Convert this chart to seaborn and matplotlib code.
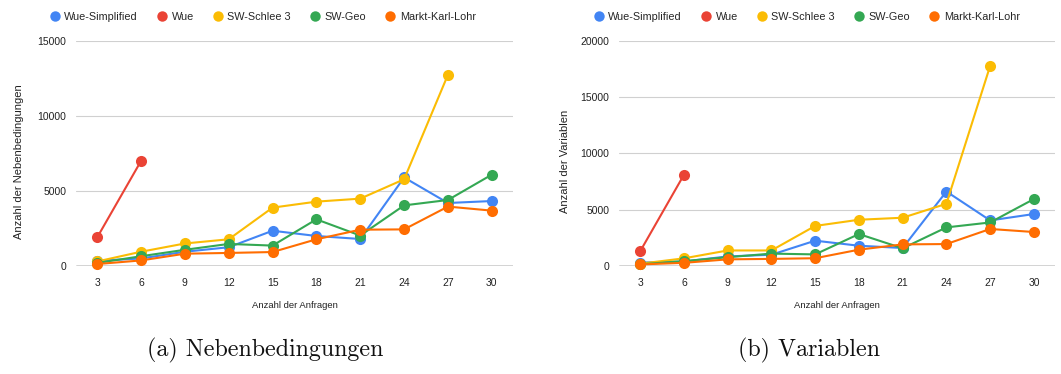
import numpy as np
import pandas as pd
import matplotlib
matplotlib.use("Agg")
import matplotlib.pyplot as plt
from matplotlib.lines import Line2D
import seaborn as sns

# Number of queries (x axis)
requests = [3, 6, 9, 12, 15, 18, 21, 24, 27, 30]
series_names = ["Wue-Simplified", "Wue", "SW-Schlee 3", "SW-Geo", "Markt-Karl-Lohr"]
nan = np.nan

# Number of constraints per instance
wue_simplified_cons = [350, 500, 950, 1250, 2350, 2000, 1800, 5900, 4200, 4330]
wue_cons = [1900, 7000, nan, nan, nan, nan, nan, nan, nan, nan]
schlee_cons = [300, 950, 1500, 1780, 3890, 4290, 4490, 5780, 12750, nan]
geo_cons = [200, 650, 1080, 1470, 1360, 3110, 2030, 4040, 4400, 6090]
mkl_cons = [130, 370, 820, 870, 930, 1780, 2420, 2440, 3960, 3690]

# Number of variables per instance
wue_simplified_vars = [300, 400, 850, 1000, 2250, 1800, 1600, 6620, 4050, 4620]
wue_vars = [1300, 8100, nan, nan, nan, nan, nan, nan, nan, nan]
schlee_vars = [200, 680, 1380, 1380, 3560, 4110, 4290, 5530, 17790, nan]
geo_vars = [150, 430, 780, 1100, 1030, 2840, 1570, 3430, 3870, 5950]
mkl_vars = [140, 280, 590, 630, 690, 1450, 1920, 1950, 3290, 3020]

colors = ["#4285F4", "#EA4335", "#FBBC04", "#34A853", "#FF6D01"]
palette = dict(zip(series_names, colors))


def long_frame(columns):
    rows = []
    for name, values in zip(series_names, columns):
        for x, v in zip(requests, values):
            if not np.isnan(v):
                rows.append({"Anfragen": x, "Wert": v, "Instanz": name})
    return pd.DataFrame(rows)


cons_df = long_frame([wue_simplified_cons, wue_cons, schlee_cons, geo_cons, mkl_cons])
vars_df = long_frame([wue_simplified_vars, wue_vars, schlee_vars, geo_vars, mkl_vars])

sns.set_theme(style="white")
plt.rcParams["font.family"] = ["Liberation Sans", "DejaVu Sans"]

fig = plt.figure(figsize=(10.61, 3.74), dpi=100)
ax1 = fig.add_axes([0.0716, 0.2888, 0.4119, 0.6016])
ax2 = fig.add_axes([0.5834, 0.2888, 0.4110, 0.6016])

panels = [
    (ax1, cons_df, [0, 5000, 10000, 15000], "Anzahl der Nebenbedingungen", 262, -0.12),
    (ax2, vars_df, [0, 5000, 10000, 15000, 20000], "Anzahl der Variablen", 806, -0.113),
]

for ax, df, yticks, ylabel, legend_x, ylab_x in panels:
    sns.lineplot(data=df, x="Anfragen", y="Wert", hue="Instanz",
                 hue_order=series_names, palette=palette, ax=ax,
                 marker="o", markersize=8, markeredgewidth=0,
                 linewidth=1.5, legend=False, clip_on=False)
    ax.set_xlim(3 - 1.45, 30 + 1.45)
    ax.set_ylim(0, yticks[-1])
    ax.set_xticks(requests)
    ax.set_yticks(yticks)
    ax.set_yticklabels([str(t) for t in yticks])
    ax.grid(axis="y", color="#d0d0d0", linewidth=0.8)
    ax.set_axisbelow(True)
    for s in ax.spines.values():
        s.set_visible(False)
    ax.axhline(0, color="#333333", linewidth=1.0, zorder=1)
    ax.tick_params(axis="both", length=0, labelsize=7.5, colors="#222222")
    ax.tick_params(axis="x", pad=9)
    ax.tick_params(axis="y", pad=7)
    ax.set_xlabel("Anzahl der Anfragen", fontsize=6.8, color="#222222")
    ax.set_ylabel(ylabel, fontsize=8, color="#222222")
    ax.xaxis.set_label_coords(0.5, -0.155)
    ax.yaxis.set_label_coords(ylab_x, 0.465)

    handles = [Line2D([], [], linestyle="none", marker="o", markersize=7.5,
                      markeredgewidth=0, color=palette[n]) for n in series_names]
    fig.legend(handles, series_names, loc="center",
               bbox_to_anchor=(legend_x / 1061, 1 - 17 / 374), ncol=5,
               frameon=False, fontsize=7.8, handletextpad=0.3,
               columnspacing=1.6, handlelength=1.2)

caption_font = dict(family=["cmr10", "DejaVu Serif"], fontsize=17.3, color="#111111",
                    ha="center", va="center")
fig.text(265 / 1061, 1 - 350 / 374, "(a) Nebenbedingungen", **caption_font)
fig.text(809 / 1061, 1 - 350 / 374, "(b) Variablen", **caption_font)

fig.savefig("out.png", dpi=100)
